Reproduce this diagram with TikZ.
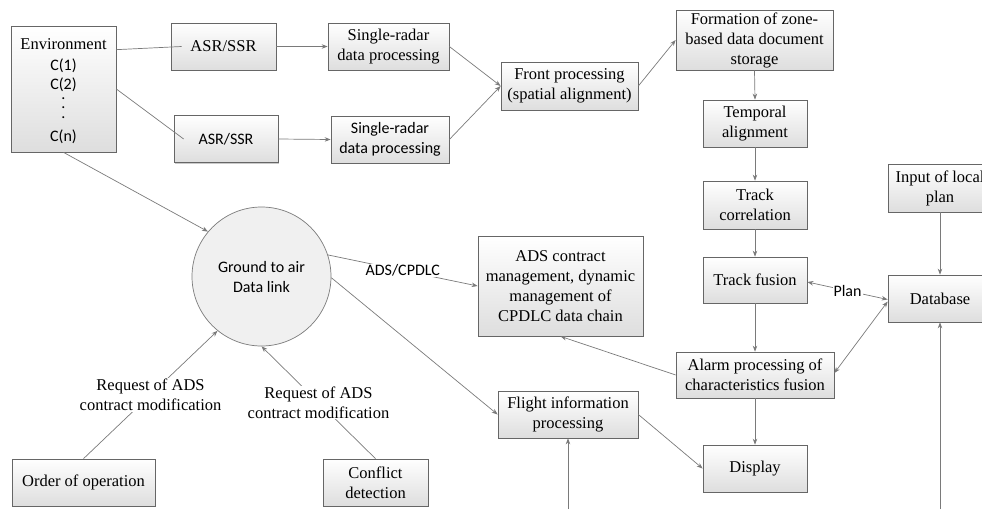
\documentclass[tikz,border=0pt]{standalone}
\usepackage{fontspec}
\setmainfont{Liberation Serif}
\newfontfamily\calfont{Carlito}
\usetikzlibrary{arrows.meta,shadows,calc}
\definecolor{linec}{HTML}{7A7A7A}
\definecolor{boxline}{HTML}{666666}
\begin{document}
\begin{tikzpicture}[x=1pt,y=-1pt,
  font=\fontsize{16.5}{20}\selectfont,
  box/.style={draw=boxline, line width=0.7pt, top color=white, bottom color=black!13,
    drop shadow={shadow xshift=1.2pt,shadow yshift=-1.2pt,fill=black!35,opacity=0.6},
    align=center, inner sep=2pt},
  sz/.style 2 args={minimum width=#1pt, minimum height=#2pt},
  sans/.style={font=\fontsize{16}{20}\selectfont\calfont},
  conn/.style={draw=linec, line width=0.7pt},
  arr/.style={conn, -{Stealth[length=6pt,width=4.5pt]}},
  biarr/.style={conn, {Stealth[length=6pt,width=4.5pt]}-{Stealth[length=6pt,width=4.5pt]}},
  lbl/.style={fill=white, inner sep=1pt, align=center}
]
\useasboundingbox (0,0) rectangle (982,509);
\clip (0,0) rectangle (982,509);

% Environment box
\node[box, sz={105}{126}] (env) at (63.5,89) {};
\node (envt) at (63.5,44) {Environment};
\node[sans, inner sep=1pt] (c1) at (63.5,66) {C(1)};
\node[sans, inner sep=1pt] (c2) at (63.5,85) {C(2)};
\node[font=\fontsize{16}{9.5}\selectfont\calfont, align=center, inner sep=0pt] (dots) at (63.5,108) {.\\.\\.};
\node[sans, inner sep=1pt] (cn) at (63.5,137) {C(n)};

% radar chain
\node[box, sz={105}{47}] (asr1) at (223.5,46.5) {ASR/SSR};
\node[box, sz={104}{47}, sans] (asr2) at (226,139) {ASR/SSR};
\node[box, sz={121}{47}] (srp1) at (388.5,46.5) {Single-radar\\data processing};
\node[box, sz={118}{47}, sans] (srp2) at (390,139.5) {Single-radar\\data processing};
\node[box, sz={137}{48}] (front) at (569.5,86) {Front processing\\(spatial alignment)};
\node[box, sz={157}{60}] (form) at (754.5,40) {Formation of zone-\\based data document\\storage};
\node[box, sz={104}{47}] (temp) at (755,123.5) {Temporal\\alignment};
\node[box, sz={104}{48}] (corr) at (755,205) {Track\\correlation};
\node[box, sz={104}{46}] (fusion) at (755,280) {Track fusion};
\node[box, sz={158}{46}] (alarm) at (755,375) {Alarm processing of\\characteristics fusion};
\node[box, sz={104}{47}] (display) at (755,468.5) {Display};
\node[box, sz={104}{48}] (input) at (940,188) {Input of local\\plan};
\node[box, sz={104}{47}] (db) at (940,298.5) {Database};

% left / middle
\node[box, sz={165}{100}] (ads) at (560.5,286) {ADS contract\\management, dynamic\\management of\\CPDLC data chain};
\node[box, sz={140}{47}] (flight) at (568,414.5) {Flight information\\processing};
\node[box, sz={143}{47}] (order) at (83.5,482.5) {Order of operation};
\node[box, sz={105}{47}] (conflict) at (375.5,482.5) {Conflict\\detection};
\node[circle, draw=linec, line width=0.7pt, fill=black!6, minimum size=139pt, sans, align=center] (gnd) at (261.5,276.5) {Ground to air\\Data link};

\coordinate (b1) at (568,509);
\coordinate (b2) at (940,509);

% connectors
\draw[conn] ([yshift=-24pt]env.north east) -- ([xshift=11pt]asr1.west);
\draw[conn] (env.east) -- ([xshift=10pt]asr2.west);
\draw[arr] (env.south) -- (gnd.140);
\draw[arr] (asr1.east) -- (srp1.west);
\draw[arr] (asr2.east) -- (srp2.west);
\draw[arr] (srp1.east) -- (front.west);
\draw[arr] (srp2.east) -- (front.west);
\draw[arr] (front.east) -- (form.west);
\draw[arr] (form.south) -- (temp.north);
\draw[arr] (temp.south) -- (corr.north);
\draw[arr] (corr.south) -- (fusion.north);
\draw[arr] (fusion.south) -- (alarm.north);
\draw[arr] (alarm.south) -- (display.north);
\draw[arr] (input.south) -- (db.north);
\draw[arr] (b2) -- (db.south);
\draw[arr] (b1) -- (flight.south);
\draw[biarr] ([yshift=-2pt]fusion.east) -- node[midway, lbl, sans] (plan) {Plan} ([yshift=-1pt]db.west);
\draw[biarr] ([yshift=-3pt]db.west) -- ([yshift=2pt]alarm.east);
\draw[arr] (alarm.west) -- (ads.south);
\draw[arr] (flight.east) -- (display.west);
\draw[arr] (gnd.18) -- node[midway, lbl, sans] (adscp) {ADS/CPDLC} (ads.west);
\draw[arr] (gnd.-1) -- (flight.west);
\draw[arr] (order.north) -- node[midway, lbl] (req1) {Request of ADS\\contract modification} (gnd.231);
\draw[arr] (conflict.north) -- node[midway, lbl] (req2) {Request of ADS\\contract modification} (gnd.270);
\end{tikzpicture}
\end{document}
